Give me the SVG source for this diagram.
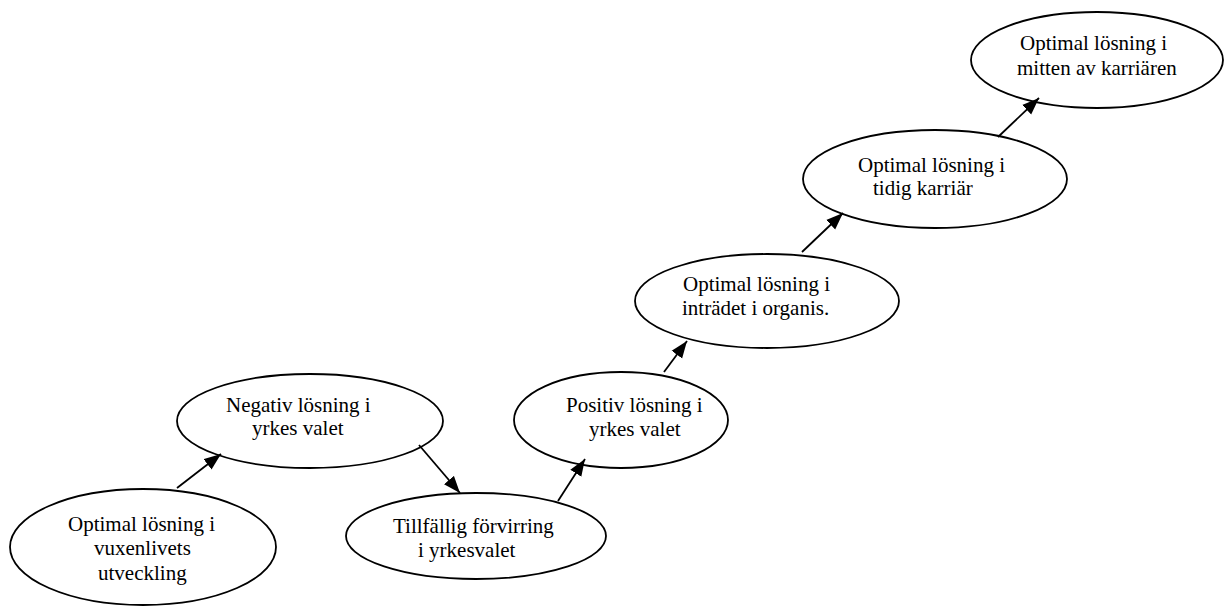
<svg xmlns="http://www.w3.org/2000/svg" width="1226" height="608" viewBox="0 0 1226 608">
  <style>
    .node ellipse { fill: #ffffff; stroke: #000000; stroke-width: 1.8; }
    .node text { font-family: "Liberation Serif", "Times New Roman", serif; font-size: 21px; fill: #000000; }
    .edge { stroke: #000000; stroke-width: 1.8; fill: none; marker-end: url(#arrow); }
  </style>
  <defs>
    <marker id="arrow" markerUnits="userSpaceOnUse" markerWidth="19" markerHeight="14" refX="17" refY="7" orient="auto">
      <path d="M0,0.5 L17,7 L0,13.5 Z" fill="#000000"/>
    </marker>
  </defs>
  <rect width="1226" height="608" fill="#ffffff"/>

  <g id="node-vuxenliv" class="node">
    <ellipse cx="143" cy="547" rx="133" ry="58"/>
    <text x="68" y="531">Optimal lösning i</text>
    <text x="94" y="555">vuxenlivets</text>
    <text x="98" y="580">utveckling</text>
  </g>

  <g id="node-negativ" class="node">
    <ellipse cx="310" cy="421" rx="133" ry="47"/>
    <text x="226" y="412">Negativ lösning i</text>
    <text x="252" y="435">yrkes valet</text>
  </g>

  <g id="node-forvirring" class="node">
    <ellipse cx="476" cy="536" rx="130" ry="43"/>
    <text x="393" y="533">Tillfällig förvirring</text>
    <text x="418" y="557">i yrkesvalet</text>
  </g>

  <g id="node-positiv" class="node">
    <ellipse cx="621" cy="420" rx="107" ry="48"/>
    <text x="566" y="412">Positiv lösning i</text>
    <text x="589" y="436">yrkes valet</text>
  </g>

  <g id="node-intradet" class="node">
    <ellipse cx="767" cy="301" rx="132" ry="47"/>
    <text x="683" y="291">Optimal lösning i</text>
    <text x="682" y="315">inträdet i organis.</text>
  </g>

  <g id="node-tidig" class="node">
    <ellipse cx="935" cy="179" rx="132" ry="49"/>
    <text x="858" y="172">Optimal lösning i</text>
    <text x="873" y="195">tidig karriär</text>
  </g>

  <g id="node-mitten" class="node">
    <ellipse cx="1097" cy="60" rx="126" ry="48"/>
    <text x="1020" y="50">Optimal lösning i</text>
    <text x="1017" y="75">mitten av karriären</text>
  </g>

  <g id="connectors">
    <line class="edge" x1="177" y1="488" x2="221" y2="454"/>
    <line class="edge" x1="419" y1="445" x2="460" y2="493"/>
    <line class="edge" x1="558" y1="501" x2="585" y2="459"/>
    <line class="edge" x1="664" y1="372" x2="687" y2="341"/>
    <line class="edge" x1="802" y1="252" x2="843" y2="213"/>
    <line class="edge" x1="998" y1="137" x2="1039" y2="98"/>
  </g>
</svg>
